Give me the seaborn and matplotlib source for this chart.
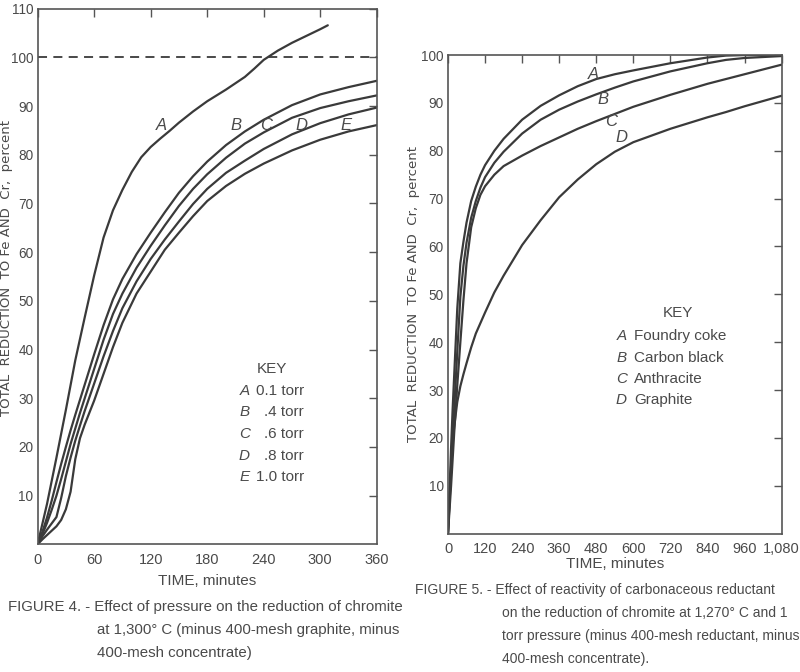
import pandas as pd
import matplotlib
matplotlib.use("Agg")
import matplotlib.pyplot as plt
import seaborn as sns

# --- Figure 4: effect of pressure (1,300 C) ---
time_a = [0, 10, 20, 30, 40, 50, 60, 70, 80, 90, 100, 110, 120, 130, 140, 150, 165, 180,
          200, 220, 230, 240, 255, 270, 285, 300, 308]
pct_a = [0, 8.3, 17.8, 27.6, 37.8, 46.6, 55.2, 63, 68.6, 72.8, 76.5, 79.5, 81.6, 83.3, 84.9,
         86.6, 88.9, 91.0, 93.4, 96.0, 97.7, 99.5, 101.4, 103.0, 104.4, 105.8, 106.6]

time_be = [0, 5, 10, 15, 20, 25, 30, 35, 40, 45, 50, 60, 70, 80, 90, 105, 120, 135, 150,
           165, 180, 200, 220, 240, 270, 300, 330, 360]
pct_b = [0, 2.5, 5.5, 9, 12.8, 16.5, 20, 23.4, 26.6, 29.7, 32.8, 39, 45, 50.3, 54.5, 59.6,
         64, 68.2, 72.2, 75.6, 78.6, 82, 84.8, 87.2, 90.2, 92.4, 93.9, 95.2]
pct_c = [0, 2, 4.4, 7.1, 10, 13.4, 17, 20.6, 23.8, 27, 30, 36, 42, 47.3, 51.5, 56.8, 61.3,
         65.5, 69.5, 73, 76, 79.4, 82.3, 84.6, 87.6, 89.6, 91, 92.2]
pct_d = [0, 1.6, 3, 4.3, 5.6, 9.5, 14, 17.8, 21.3, 24.4, 27.4, 33, 38.6, 43.8, 48.5, 54,
         58.6, 62.6, 66.3, 69.9, 73, 76.3, 78.8, 81.2, 84.2, 86.5, 88.3, 89.7]
pct_e = [0, 1, 1.9, 2.8, 3.7, 5, 7.2, 10.8, 17.5, 21.8, 24.6, 29.5, 35, 40.5, 45.5, 51.5,
         56, 60.5, 64, 67.4, 70.5, 73.6, 76.1, 78.2, 80.9, 83.1, 84.8, 86.1]

key4_letters = ["A", "B", "C", "D", "E"]
key4_text = ["0.1 torr", ".4 torr", ".6 torr", ".8 torr", "1.0 torr"]

# --- Figure 5: reactivity of reductant (1,270 C, 1 torr) ---
time5 = [0, 5, 10, 15, 20, 30, 40, 50, 60, 75, 90, 105, 120, 150, 180, 240, 300, 360, 420,
         480, 540, 600, 720, 840, 900, 960, 1080]
pct5_a = [0, 9, 18, 26, 33, 47, 56.5, 61, 65, 69.5, 72.5, 75, 77, 80, 82.5, 86.5, 89.4,
          91.6, 93.5, 95, 96, 96.8, 98.3, 99.5, 99.9, 100, 100]
pct5_b = [0, 6.5, 13, 19.5, 26, 38, 49.5, 56, 60.8, 66, 69.5, 72.3, 74.5, 77.5, 79.8, 83.6,
          86.5, 88.6, 90.3, 91.8, 93.2, 94.5, 96.6, 98.3, 99, 99.4, 99.8]
pct5_c = [0, 5, 10, 15.5, 21, 31, 40, 48.8, 56.5, 64, 68, 70.8, 72.6, 75, 76.8, 79, 81,
          82.8, 84.6, 86.2, 87.7, 89.2, 91.7, 94, 95, 96, 98]
pct5_d = [0, 7.5, 14, 19, 22.3, 27.5, 30.8, 33.3, 35.6, 38.9, 41.8, 44, 46.2, 50.4, 53.9,
          60.3, 65.5, 70.3, 74, 77.2, 79.8, 81.8, 84.6, 87, 88.1, 89.3, 91.5]

key5_letters = ["A", "B", "C", "D"]
key5_text = ["Foundry coke", "Carbon black", "Anthracite", "Graphite"]

# long-form tables for seaborn
df4 = pd.concat([
    pd.DataFrame({"time": time_a, "pct": pct_a, "curve": "A"}),
    pd.DataFrame({"time": time_be, "pct": pct_b, "curve": "B"}),
    pd.DataFrame({"time": time_be, "pct": pct_c, "curve": "C"}),
    pd.DataFrame({"time": time_be, "pct": pct_d, "curve": "D"}),
    pd.DataFrame({"time": time_be, "pct": pct_e, "curve": "E"}),
])
df5 = pd.concat([
    pd.DataFrame({"time": time5, "pct": p, "curve": k})
    for k, p in zip(key5_letters, [pct5_a, pct5_b, pct5_c, pct5_d])
])

sns.set_theme(style="white")
plt.rcParams["font.family"] = ["Liberation Sans", "DejaVu Sans"]

ink = "#3a3a3a"
txt = "#4a4a4a"

fig = plt.figure(figsize=(8, 6.72), dpi=100)
ax1 = fig.add_axes([0.047, 0.190, 0.424, 0.797])
ax2 = fig.add_axes([0.560, 0.206, 0.417, 0.712])

line_kw = dict(linewidth=1.6, legend=False, sort=False,
               solid_joinstyle="round", solid_capstyle="round")
sns.lineplot(data=df4, x="time", y="pct", hue="curve", ax=ax1,
             palette=[ink] * 5, **line_kw)
sns.lineplot(data=df5, x="time", y="pct", hue="curve", ax=ax2,
             palette=[ink] * 4, **line_kw)

ax1.axhline(100, color=ink, linewidth=1.3, linestyle=(0, (5, 3.5)))

for ax in (ax1, ax2):
    for s in ax.spines.values():
        s.set_visible(True)
        s.set_color("#555555")
        s.set_linewidth(1.2)
    ax.tick_params(direction="in", length=6, width=1, colors="#555555",
                   top=True, right=True, labelcolor=txt, labelsize=10.5)
    ax.tick_params(axis="y", labelsize=9.8, pad=3)
    ax.tick_params(axis="x", pad=6)
    ax.set_ylabel("TOTAL  REDUCTION  TO Fe AND  Cr,  percent",
                  color=txt, fontsize=9.5, family="DejaVu Sans")

ax1.yaxis.set_label_coords(-0.072, 0.515)
ax2.yaxis.set_label_coords(-0.083, 0.5)

ax1.set_xlabel("TIME, minutes", color=txt, fontsize=11, labelpad=5)
ax2.set_xlabel("TIME, minutes", color=txt, fontsize=11, labelpad=1)

ax1.set_xlim(0, 360)
ax1.set_ylim(0, 110)
ax1.set_xticks(range(0, 361, 60))
ax1.set_yticks(range(10, 111, 10))

ax2.set_xlim(0, 1080)
ax2.set_ylim(0, 100)
ax2.set_xticks(range(0, 1081, 120))
ax2.set_xticklabels([f"{v:,}" for v in range(0, 1081, 120)])
ax2.set_yticks(range(10, 101, 10))

# curve letters
lab4 = {"A": (131, 86), "B": (211, 86), "C": (242, 86), "D": (280, 86), "E": (327, 86)}
for k, (x, y) in lab4.items():
    ax1.text(x, y, k, style="italic", color=txt, fontsize=12, ha="center", va="center")
lab5 = {"A": (470, 96), "B": (502, 90.8), "C": (529, 86.2), "D": (562, 82.7)}
for k, (x, y) in lab5.items():
    ax2.text(x, y, k, style="italic", color=txt, fontsize=12, ha="center", va="center")

# keys
ax1.text(0.69, 0.327, "KEY", transform=ax1.transAxes, color=txt, fontsize=11,
         ha="center", va="center")
for i, (k, t) in enumerate(zip(key4_letters, key4_text)):
    yy = 0.287 - i * 0.0405
    ax1.text(0.61, yy, k, transform=ax1.transAxes, style="italic", color=txt,
             fontsize=11, va="center", ha="center")
    ax1.text(0.785, yy, t, transform=ax1.transAxes, color=txt, fontsize=11,
             va="center", ha="right")

ax2.text(0.69, 0.462, "KEY", transform=ax2.transAxes, color=txt, fontsize=11,
         ha="center", va="center")
for i, (k, t) in enumerate(zip(key5_letters, key5_text)):
    yy = 0.412 - i * 0.0445
    ax2.text(0.52, yy, k, transform=ax2.transAxes, style="italic", color=txt,
             fontsize=11, va="center", ha="center")
    ax2.text(0.557, yy, t, transform=ax2.transAxes, color=txt, fontsize=11, va="center")

# captions
cap4 = dict(color=txt, fontsize=10.8, va="center", ha="left")
fig.text(0.010, 1 - 607 / 672, "FIGURE 4. - Effect of pressure on the reduction of chromite", **cap4)
fig.text(0.121, 1 - 630 / 672, "at 1,300\u00b0 C (minus 400-mesh graphite, minus", **cap4)
fig.text(0.121, 1 - 653 / 672, "400-mesh concentrate)", **cap4)

cap5 = dict(color=txt, fontsize=10, va="center", ha="left")
fig.text(0.519, 1 - 590 / 672, "FIGURE 5. - Effect of reactivity of carbonaceous reductant", **cap5)
fig.text(0.627, 1 - 613 / 672, "on the reduction of chromite at 1,270\u00b0 C and 1", **cap5)
fig.text(0.627, 1 - 636 / 672, "torr pressure (minus 400-mesh reductant, minus", **cap5)
fig.text(0.627, 1 - 659 / 672, "400-mesh concentrate).", **cap5)

plt.savefig("out.png", dpi=100)
